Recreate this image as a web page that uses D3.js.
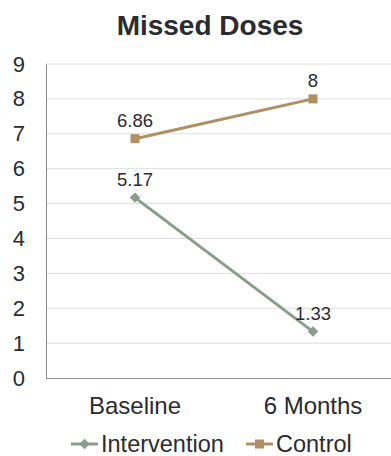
<!DOCTYPE html>
<html>
<head>
<meta charset="utf-8">
<script src="https://cdn.jsdelivr.net/npm/d3@7/dist/d3.min.js"></script>
<style>
  html, body { margin: 0; padding: 0; background: #fff; }
  svg { display: block; font-family: "Liberation Sans", Arial, sans-serif; }
</style>
</head>
<body>
<svg id="chart" width="391" height="456"></svg>
<script>
// Missed doses at baseline and after 6 months
const categories = ["Baseline", "6 Months"];
const interventionValues = [5.17, 1.33];
const controlValues = [6.86, 8];
const yTicks = [0, 1, 2, 3, 4, 5, 6, 7, 8, 9];

const series = [
  { name: "Intervention", values: interventionValues, color: "#8a9c8c", marker: "diamond" },
  { name: "Control", values: controlValues, color: "#b08f62", marker: "square" }
];

const svg = d3.select("#chart");
const margin = { left: 46, top: 64, bottom: 378, right: 402 };
const textColor = "#2b2b30";

const x = d3.scaleBand().domain(categories).range([margin.left, margin.right]);
const y = d3.scaleLinear().domain([0, 9]).range([margin.bottom, margin.top]);

// Title
svg.append("text")
  .attr("x", 210).attr("y", 35)
  .attr("text-anchor", "middle")
  .attr("font-size", 28).attr("font-weight", "bold")
  .attr("fill", textColor)
  .text("Missed Doses");

// Horizontal gridlines
svg.append("g").selectAll("line")
  .data(yTicks.filter(d => d > 0))
  .join("line")
  .attr("x1", margin.left).attr("x2", 391)
  .attr("y1", d => y(d)).attr("y2", d => y(d))
  .attr("stroke", "#dcdfdf").attr("stroke-width", 1);

// Y axis
const yAxis = svg.append("g")
  .attr("transform", `translate(${margin.left},0)`)
  .call(d3.axisLeft(y).tickValues(yTicks).tickSize(0).tickPadding(21));
yAxis.select(".domain").attr("stroke", "#8c8c8c");
yAxis.selectAll("text")
  .attr("font-size", 22).attr("fill", textColor)
  .attr("font-family", "Liberation Sans, Arial, sans-serif");

// X axis
const xAxis = svg.append("g")
  .attr("transform", `translate(0,${margin.bottom})`)
  .call(d3.axisBottom(x).tickSize(0).tickPadding(19));
xAxis.select(".domain").attr("stroke", "#8c8c8c").attr("d", `M${margin.left},0.5H391`);
xAxis.selectAll("text")
  .attr("font-size", 24).attr("fill", textColor)
  .attr("font-family", "Liberation Sans, Arial, sans-serif");

const cx = c => x(c) + x.bandwidth() / 2;

function drawMarker(g, type, color, px, py) {
  if (type === "diamond") {
    g.append("path")
      .attr("d", d3.symbol().type(d3.symbolDiamond2).size(70)())
      .attr("transform", `translate(${px},${py})`)
      .attr("fill", color);
  } else {
    g.append("rect")
      .attr("x", px - 4.5).attr("y", py - 4.5)
      .attr("width", 9).attr("height", 9)
      .attr("fill", color);
  }
}

const line = d3.line().x((d, i) => cx(categories[i])).y(d => y(d));

series.forEach(s => {
  const g = svg.append("g");
  g.append("path")
    .datum(s.values)
    .attr("d", line)
    .attr("fill", "none")
    .attr("stroke", s.color)
    .attr("stroke-width", 3);
  s.values.forEach((v, i) => {
    drawMarker(g, s.marker, s.color, cx(categories[i]), y(v));
    g.append("text")
      .attr("x", cx(categories[i]))
      .attr("y", y(v) - 12)
      .attr("text-anchor", "middle")
      .attr("font-size", 18.5)
      .attr("fill", textColor)
      .text(v);
  });
});

// Legend
const legendItems = [
  { s: series[0], x: 71 },
  { s: series[1], x: 246 }
];
legendItems.forEach(({ s, x: lx }) => {
  const g = svg.append("g");
  g.append("line")
    .attr("x1", lx).attr("x2", lx + 27)
    .attr("y1", 444).attr("y2", 444)
    .attr("stroke", s.color).attr("stroke-width", 3);
  drawMarker(g, s.marker, s.color, lx + 13.5, 444);
  g.append("text")
    .attr("x", lx + 30).attr("y", 451.5)
    .attr("font-size", 23.5).attr("fill", textColor)
    .text(s.name);
});
</script>
</body>
</html>
